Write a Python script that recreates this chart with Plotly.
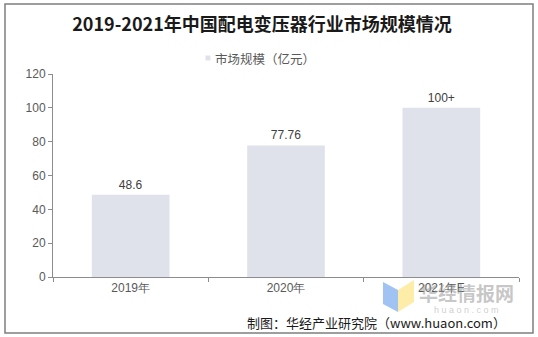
import plotly.graph_objects as go

# Market size of China's distribution transformer industry
years = ["2019年", "2020年", "2021年E"]
market_size = [48.6, 77.76, 100]
value_labels = ["48.6", "77.76", "100+"]
y_ticks = [0, 20, 40, 60, 80, 100, 120]
series_name = "市场规模（亿元）"
bar_color = "#dfe2eb"

W, H = 538, 337
L, R, T, B = 53, 19, 74, 60
pw, ph = W - L - R, H - T - B


def px_x(x):
    return (x - L) / pw


def px_y(y):
    return (H - B - y) / ph


fig = go.Figure()
fig.add_trace(go.Bar(
    x=years, y=market_size, name=series_name,
    marker=dict(color=bar_color, line=dict(width=0)),
    text=value_labels, textposition="outside",
    textfont=dict(size=12, color="#404040", family="Arial, Liberation Sans"),
    cliponaxis=False, showlegend=False,
))

axis_font = dict(size=12, color="#595959", family="Arial, Liberation Sans")
fig.update_layout(
    width=W, height=H,
    margin=dict(l=L, r=R, t=T, b=B),
    paper_bgcolor="white", plot_bgcolor="white",
    bargap=0.5,
    title=dict(text="<b>2019-2021年中国配电变压器行业市场规模情况</b>",
               x=0.487, xanchor="center", y=1 - 25 / H, yanchor="middle",
               font=dict(size=18, color="#1a1a1a", family="Noto Sans CJK SC")),
    xaxis=dict(showline=True, linecolor="#8c8c8c", linewidth=1,
               ticks="outside", tickson="boundaries", ticklen=4, tickcolor="#8c8c8c",
               tickfont=axis_font, showgrid=False),
    yaxis=dict(range=[0, 120], tickvals=y_ticks, showline=True, linecolor="#8c8c8c",
               linewidth=1, ticks="outside", ticklen=4, tickcolor="#8c8c8c",
               tickfont=axis_font, showgrid=False, zeroline=False),
)

# legend: small square swatch followed by the series name
fig.add_shape(type="rect", xref="paper", yref="paper",
              x0=px_x(205.5), x1=px_x(210.5), y0=px_y(60.5), y1=px_y(55.5),
              fillcolor=bar_color, line=dict(width=0))
fig.add_annotation(text=series_name, xref="paper", yref="paper",
                   x=px_x(213), y=px_y(58), xanchor="left", yanchor="middle", showarrow=False,
                   font=dict(size=12.5, color="#595959", family="Noto Sans CJK SC"))

# outer frame
fig.add_shape(type="rect", xref="paper", yref="paper",
              x0=px_x(5), x1=px_x(533), y0=px_y(333), y1=px_y(4),
              line=dict(color="#7f7f7f", width=1.5), fillcolor="rgba(0,0,0,0)", layer="above")

# huaon logo mark
fig.add_shape(type="path", xref="paper", yref="paper",
              path=f"M {px_x(383)},{px_y(282)} L {px_x(398)},{px_y(290)} L {px_x(398)},{px_y(312)} L {px_x(383)},{px_y(304)} Z",
              fillcolor="rgba(120,170,240,0.7)", line=dict(width=0))
fig.add_shape(type="path", xref="paper", yref="paper",
              path=f"M {px_x(398)},{px_y(290)} L {px_x(414)},{px_y(280)} L {px_x(414)},{px_y(302)} L {px_x(398)},{px_y(312)} Z",
              fillcolor="rgba(253,230,140,0.75)", line=dict(width=0))
fig.add_annotation(text="<b>华经情报网</b>", xref="paper", yref="paper",
                   x=px_x(466), y=px_y(292), xanchor="center", yanchor="middle", showarrow=False,
                   font=dict(size=19, color="rgba(150,150,150,0.55)", family="Noto Sans CJK SC"))
fig.add_annotation(text="h u a o n . c o m", xref="paper", yref="paper",
                   x=px_x(466), y=px_y(309.5), xanchor="center", yanchor="middle", showarrow=False,
                   font=dict(size=9, color="rgba(170,170,170,0.6)", family="Arial, Liberation Sans"))

# source note
fig.add_annotation(text="制图：华经产业研究院（www.huaon.com）", xref="paper", yref="paper",
                   x=px_x(508), y=px_y(322.5), xanchor="right", yanchor="middle", showarrow=False,
                   font=dict(size=13, color="#1a1a1a", family="Noto Sans CJK SC"))

fig.write_html("out.html")
